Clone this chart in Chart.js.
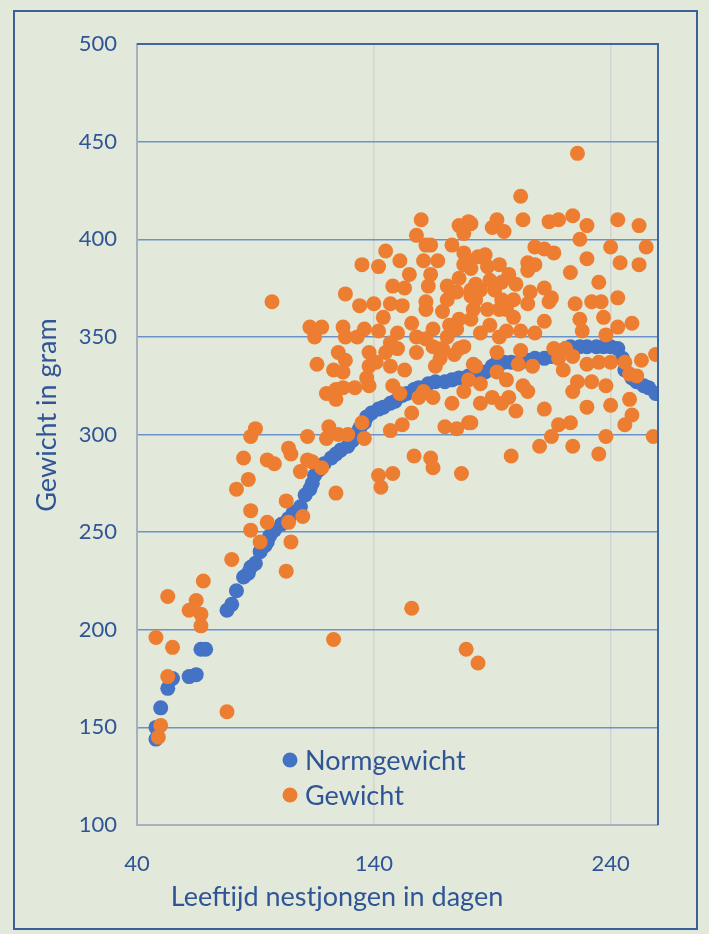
<!DOCTYPE html>
<html>
<head>
<meta charset="utf-8">
<script src="https://cdn.jsdelivr.net/npm/chart.js@4.4.1/dist/chart.umd.min.js"></script>
<style>
  html, body { margin: 0; padding: 0; background: #E2E9DA; }
  #wrap { width: 709px; height: 934px; }
</style>
</head>
<body>
<div id="wrap"><canvas id="mycanvas" width="709" height="934"></canvas></div>
<script>
// Normgewicht (blauw)
var normDagen = [48, 48, 50, 53, 55, 62, 65, 67, 69, 78, 80, 82, 85, 87, 88, 90, 92, 94, 95, 96, 98, 101, 104, 106, 109, 111, 113, 114, 115, 117, 119, 122, 124, 126, 129, 131, 132, 134, 136, 137, 139, 142, 144, 147, 149, 152, 154, 157, 159, 163, 166, 170, 173, 176, 180, 184, 187, 190, 192, 195, 198, 202, 205, 208, 212, 215, 218, 221, 223, 227, 230, 234, 237, 240, 243, 245, 246, 249, 251, 254, 256, 259];
var normGewicht = [144, 150, 160, 170, 175, 176, 177, 190, 190, 210, 213, 220, 227, 229, 232, 234, 240, 243, 245, 248, 251, 254, 257, 260, 263, 269, 272, 275, 279, 282, 285, 288, 290, 292, 294, 297, 300, 303, 306, 309, 311, 313, 314, 316, 317, 320, 321, 323, 324, 326, 327, 327, 328, 329, 330, 330, 332, 335, 337, 337, 337, 337, 338, 339, 339, 340, 342, 344, 345, 345, 345, 345, 345, 345, 344, 339, 333, 329, 327, 325, 324, 321];

// Gewicht (oranje)
var dagen = [48, 55, 53, 78, 50, 49, 53, 62, 65, 68, 67, 67,
  90, 88, 85, 95, 98, 87, 82, 88, 103, 95, 88, 92, 104, 110, 105, 103, 80, 112, 104, 105, 112, 114, 109, 118, 97, 123, 124, 156, 179, 184,
  121, 120, 125, 129, 135, 136, 142, 143, 148, 157, 164, 165, 177, 147, 152, 170, 175, 180,
  113, 118, 115, 127, 128, 133, 136, 125, 128, 116, 123, 127, 138, 141, 138, 137, 138, 142, 144, 147, 150, 147, 145, 150, 153, 158, 156, 158, 162, 165, 165, 169, 171, 169, 175, 176, 166, 120, 124, 127, 132, 124, 148, 151, 161, 159, 165, 156, 180, 178, 173, 182, 178, 140, 134, 147, 152, 162, 171, 182,
  160, 158, 162, 164, 173, 176, 180, 178, 145, 142, 135, 151, 161, 167, 155, 164, 148, 153, 163, 171, 175, 180, 178, 128, 181, 184,
  226, 202, 192, 190, 195, 181, 203, 214, 218, 224, 230, 227, 243, 252, 240, 255, 208, 212, 216, 230, 244, 252, 223, 235, 243, 236, 232, 225, 205, 208, 205, 200, 212, 215, 206, 188, 189, 194, 185, 194,
  183, 185, 193, 196, 202, 208, 212, 202, 192, 201, 207, 192, 196, 185, 203, 205, 190, 197, 185, 194, 200, 181, 212, 216, 221, 218, 224, 220, 226, 224, 232, 230, 235, 240, 238, 230, 240, 218, 223, 215, 210, 198, 224, 235, 238, 246, 248, 251, 253, 259, 248, 249, 246, 258, 249, 243, 238, 237, 228, 227, 188, 196, 205, 214,
  181, 189, 199, 176, 183, 181,
  178, 187, 193, 191, 181, 197, 176, 183, 193, 199, 162, 172, 168, 174];
var gewicht = [196, 191, 176, 158, 151, 145, 217, 210, 215, 225, 208, 202,
  303, 299, 288, 287, 285, 277, 272, 261, 266, 255, 251, 245, 255, 258, 245, 230, 236, 299, 293, 290, 287, 286, 281, 283, 368, 195, 270, 211, 190, 183,
  304, 298, 300, 300, 306, 298, 279, 273, 280, 289, 288, 283, 280, 302, 305, 304, 303, 306,
  355, 355, 350, 355, 350, 350, 354, 342, 338, 336, 333, 332, 342, 337, 335, 329, 325, 353, 360, 347, 352, 335, 342, 344, 333, 342, 357, 350, 364, 354, 345, 344, 350, 363, 354, 344, 335, 321, 323, 324, 324, 318, 325, 321, 322, 319, 319, 311, 328, 322, 316, 336, 345, 367, 366, 367, 366, 368, 369, 364,
  410, 402, 397, 397, 397, 407, 409, 403, 394, 386, 387, 389, 389, 389, 382, 382, 376, 375, 376, 376, 373, 388, 393, 372, 371, 391,
  444, 422, 410, 406, 404, 408, 410, 409, 410, 412, 407, 400, 410, 407, 396, 396, 396, 395, 393, 390, 388, 387, 383, 378, 370, 368, 368, 367, 388, 387, 384, 377, 375, 370, 373, 386, 379, 378, 374, 369,
  335, 352, 350, 353, 353, 352, 358, 343, 342, 336, 335, 332, 328, 326, 325, 322, 319, 319, 316, 316, 312, 306, 313, 344, 344, 339, 340, 333, 327, 322, 327, 336, 337, 337, 325, 314, 315, 305, 306, 299, 294, 289, 294, 290, 299, 337, 331, 330, 338, 341, 318, 310, 305, 299, 357, 355, 351, 360, 353, 359, 364, 364, 367, 368,
  359, 356, 360, 359, 377, 385,
  387, 392, 387, 374, 374, 382, 380, 369, 364, 369, 349, 356, 339, 341];

var xTicks = [40, 140, 240];
var xMin = 40, xMax = 260;
var yMin = 100, yMax = 500, yStap = 50;

var tekstKleur = '#2F5597';
var lettertype = 'Lato';

function punten(xs, ys) {
  var p = [];
  for (var i = 0; i < xs.length; i++) {
    p.push({x: xs[i], y: ys[i]});
  }
  return p;
}

var kaderPlugin = {
  id: 'kader',
  beforeDraw: function(chart) {
    var ctx = chart.ctx;
    ctx.save();
    ctx.fillStyle = '#E2E9DA';
    ctx.fillRect(0, 0, chart.width, chart.height);
    ctx.strokeStyle = '#3A6195';
    ctx.lineWidth = 2;
    ctx.strokeRect(14, 11, 683, 918);
    ctx.restore();
  },
  afterDatasetsDraw: function(chart) {
    var ctx = chart.ctx;
    var a = chart.chartArea;
    ctx.save();
    // rand boven en rechts
    ctx.strokeStyle = '#3D67A3';
    ctx.lineWidth = 2;
    ctx.beginPath();
    ctx.moveTo(a.left, a.top);
    ctx.lineTo(a.right, a.top);
    ctx.lineTo(a.right, a.bottom);
    ctx.stroke();

    // legenda binnen de grafiek
    ctx.font = '27px ' + lettertype;
    ctx.textBaseline = 'middle';
    chart.data.datasets.forEach(function(ds, i) {
      var y = 760 + i * 35;
      ctx.fillStyle = ds.backgroundColor;
      ctx.beginPath();
      ctx.arc(290, y, 7.5, 0, Math.PI * 2);
      ctx.fill();
      ctx.fillStyle = tekstKleur;
      ctx.fillText(ds.label, 305, y + 1);
    });

    // astitels
    ctx.fillStyle = tekstKleur;
    ctx.font = '27px ' + lettertype;
    ctx.textAlign = 'center';
    ctx.fillText('Leeftijd nestjongen in dagen', 337, 897);
    ctx.translate(47, 415);
    ctx.rotate(-Math.PI / 2);
    ctx.fillText('Gewicht in gram', 0, 0);
    ctx.restore();
  }
};

var ctx = document.getElementById('mycanvas');

var grafiek = new Chart(ctx, {
  type: 'scatter',
  data: {
    datasets: [
      {
        label: 'Normgewicht',
        data: punten(normDagen, normGewicht),
        backgroundColor: '#4472C4',
        borderColor: '#4472C4',
        borderWidth: 0,
        pointRadius: 7.5,
        order: 2
      },
      {
        label: 'Gewicht',
        data: punten(dagen, gewicht),
        backgroundColor: '#ED7D31',
        borderColor: '#ED7D31',
        borderWidth: 0,
        pointRadius: 7.5,
        order: 1
      }
    ]
  },
  options: {
    responsive: false,
    animation: false,
    devicePixelRatio: 1,
    layout: { padding: { left: 0, top: 44, right: 51, bottom: 0 } },
    plugins: {
      legend: { display: false },
      tooltip: { enabled: false }
    },
    scales: {
      x: {
        type: 'linear',
        min: xMin,
        max: xMax,
        afterBuildTicks: function(scale) {
          scale.ticks = xTicks.map(function(v) { return {value: v}; });
        },
        afterFit: function(scale) { scale.height = 109; },
        ticks: {
          color: tekstKleur,
          font: { family: lettertype, size: 22 },
          padding: 26,
          maxRotation: 0
        },
        grid: { color: '#D3D3D3', lineWidth: 1.5, drawTicks: false },
        border: { color: '#A7B0BC', width: 2 }
      },
      y: {
        min: yMin,
        max: yMax,
        ticks: {
          stepSize: yStap,
          color: tekstKleur,
          font: { family: lettertype, size: 22 },
          padding: 20
        },
        afterFit: function(scale) { scale.width = 137; },
        grid: { color: '#6A93CB', lineWidth: 1.5, drawTicks: false },
        border: { color: '#A7B0BC', width: 2 }
      }
    }
  },
  plugins: [kaderPlugin]
});
</script>
</body>
</html>
